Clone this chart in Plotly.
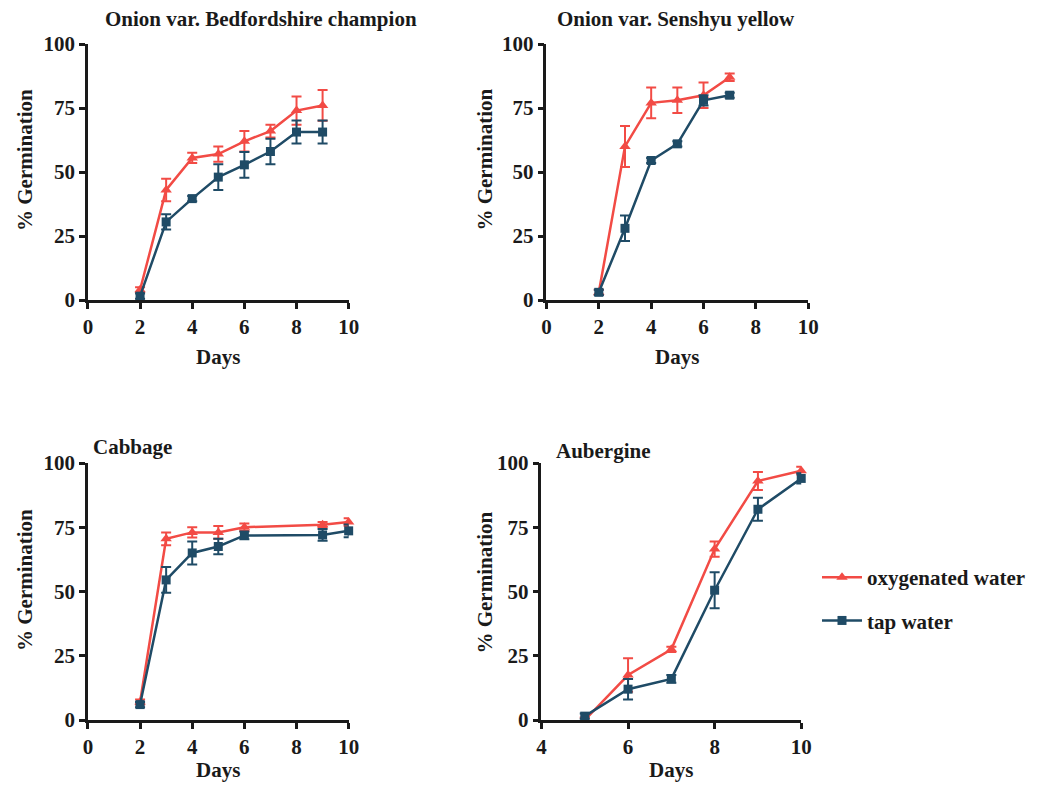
import plotly.graph_objects as go

W, H = 1039, 792
OFF = 8  # default page margin around the plot div
FW, FH = W - 2 * OFF, H - 2 * OFF
RED = "#F24B45"
BLUE = "#1F4B66"
AX = "#1a1a1a"
FONT = "Liberation Serif"
FS = 21

# ---------------- data ----------------
titles = ["Onion var. Bedfordshire champion", "Onion var. Senshyu yellow", "Cabbage", "Aubergine"]

bed_days = [2, 3, 4, 5, 6, 7, 8, 9]
bed_oxy = [4, 43, 55.5, 57, 62, 66, 74, 76]
bed_oxy_err = [1, 4.4, 2, 3, 4, 2.5, 5.5, 6]
bed_tap = [1.5, 30.5, 39.6, 48, 52.8, 58, 65.6, 65.6]
bed_tap_err = [1, 3, 1, 5, 5, 5, 4.5, 4.5]

sen_days = [2, 3, 4, 5, 6, 7]
sen_oxy = [3, 60, 77, 78, 80, 87]
sen_oxy_err = [1, 8, 6, 5, 5, 1.5]
sen_tap = [3, 28, 54.5, 61, 78, 80]
sen_tap_err = [1, 5, 1, 1, 2, 1]

cab_days = [2, 3, 4, 5, 6, 9, 10]
cab_oxy = [7, 70.5, 73, 73, 75, 76, 77]
cab_oxy_err = [1, 2.5, 2, 2.5, 1.5, 1, 1.5]
cab_tap = [6, 54.5, 65, 67.5, 71.8, 72, 73.6]
cab_tap_err = [1, 5, 4.5, 3, 1.5, 2.3, 2.5]

aub_days = [5, 6, 7, 8, 9, 10]
aub_oxy = [0, 17.5, 27.5, 66.5, 93, 97]
aub_oxy_err = [1, 6.5, 1, 3, 3.5, 1.5]
aub_tap = [1.5, 12, 16, 50.5, 82, 94]
aub_tap_err = [1, 4, 1.5, 7, 4.5, 2]

x_ranges = [[0, 10], [0, 10], [0, 10], [4, 10]]
x_ticks = [[0, 2, 4, 6, 8, 10], [0, 2, 4, 6, 8, 10], [0, 2, 4, 6, 8, 10], [4, 6, 8, 10]]
y_ticks = [0, 25, 50, 75, 100]

series = [
    (bed_days, bed_oxy, bed_oxy_err, bed_tap, bed_tap_err),
    (sen_days, sen_oxy, sen_oxy_err, sen_tap, sen_tap_err),
    (cab_days, cab_oxy, cab_oxy_err, cab_tap, cab_tap_err),
    (aub_days, aub_oxy, aub_oxy_err, aub_tap, aub_tap_err),
]

# plot areas in screen pixels (left, right, top, bottom)
boxes = [(88, 349, 44, 300), (547, 809, 44, 300), (88, 349, 463, 720), (542, 802, 463, 720)]


def px(x):
    return (x - OFF) / FW


def py(y):
    return 1 - (y - OFF) / FH


fig = go.Figure()
layout = {}
for i, (box, s) in enumerate(zip(boxes, series)):
    n = "" if i == 0 else str(i + 1)
    xa, ya = "x" + n, "y" + n
    days, oxy, oxy_e, tap, tap_e = s
    fig.add_trace(go.Scatter(
        x=days, y=oxy, xaxis=xa, yaxis=ya, mode="lines+markers",
        name="oxygenated water", legendgroup="oxy", showlegend=(i == 0),
        line=dict(color=RED, width=2.5),
        marker=dict(symbol="triangle-up", size=10, color=RED),
        error_y=dict(type="data", array=oxy_e, color=RED, thickness=2, width=5),
        cliponaxis=False,
    ))
    fig.add_trace(go.Scatter(
        x=days, y=tap, xaxis=xa, yaxis=ya, mode="lines+markers",
        name="tap water", legendgroup="tap", showlegend=(i == 0),
        line=dict(color=BLUE, width=2.5),
        marker=dict(symbol="square", size=9, color=BLUE),
        error_y=dict(type="data", array=tap_e, color=BLUE, thickness=2, width=5),
        cliponaxis=False,
    ))
    l, r, t, b = box
    common = dict(showline=True, linewidth=2.5, linecolor=AX, ticks="outside",
                  ticklen=6, tickwidth=2.5, tickcolor=AX, showgrid=False, zeroline=False,
                  automargin=False,
                  tickfont=dict(size=FS, color=AX, family=FONT, weight="bold"), fixedrange=True)
    layout["xaxis" + n] = dict(domain=[px(l), px(r)], range=x_ranges[i], tickvals=x_ticks[i],
                               anchor=ya, **common)
    layout["yaxis" + n] = dict(domain=[py(b), py(t)], range=[0, 100], tickvals=y_ticks,
                               anchor=xa, **common)

annotations = []
# panel titles
annotations.append(dict(text=titles[0], x=px(261), y=py(19), xanchor="center", yanchor="middle"))
annotations.append(dict(text=titles[1], x=px(677), y=py(19), xanchor="center", yanchor="middle"))
annotations.append(dict(text=titles[2], x=px(91), y=py(447), xanchor="left", yanchor="middle"))
annotations.append(dict(text=titles[3], x=px(555), y=py(451), xanchor="left", yanchor="middle"))
# axis titles
for (xc, yc) in [(218, 357), (678, 357)]:
    annotations.append(dict(text="Days", x=px(xc), y=py(yc), xanchor="center", yanchor="middle"))
for xc in [218, 672]:
    annotations.append(dict(text="Days", x=px(xc), y=0, xanchor="center", yanchor="bottom"))
for (xc, yc) in [(25, 160), (485, 160), (25, 580), (485, 583)]:
    annotations.append(dict(text="% Germination", x=px(xc), y=py(yc), xanchor="center",
                            yanchor="middle", textangle=-90))
for a in annotations:
    a.update(xref="paper", yref="paper", showarrow=False,
             font=dict(size=FS, color=AX, family=FONT, weight="bold"))

fig.update_layout(
    template="none",
    width=FW, height=FH,
    autosize=False,
    margin=dict(l=0, r=0, t=0, b=0, pad=0),
    paper_bgcolor="white", plot_bgcolor="white",
    font=dict(family=FONT, size=FS, color=AX, weight="bold"),
    annotations=annotations,
    showlegend=True,
    legend=dict(x=px(818), y=py(557), xanchor="left", yanchor="top",
                bgcolor="rgba(0,0,0,0)", tracegroupgap=13, traceorder="grouped",
                font=dict(size=FS, family=FONT, color=AX, weight="bold"),
                itemwidth=40),
    **layout,
)

fig.write_html("out.html")
